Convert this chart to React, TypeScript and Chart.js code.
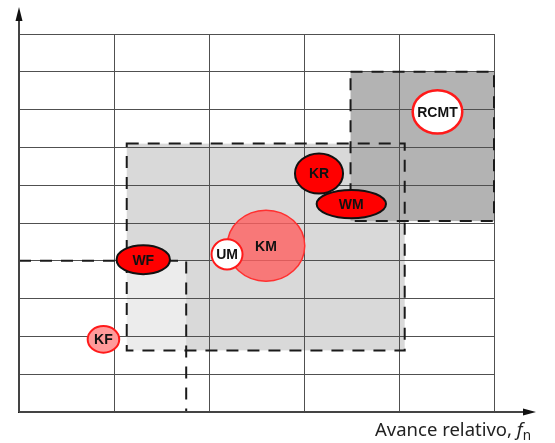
import React, { useEffect, useRef } from 'react';
import { Chart, registerables } from 'chart.js';

Chart.register(...registerables);

// Axis extents (grid of 5 columns x 10 rows)
const xMin = 0;
const xMax = 5;
const yMin = 0;
const yMax = 10;

// Shaded regions (data units)
const regionNames = ['medio', 'alto', 'bajo'];
const regionX0 = [1.134, 3.49, 0];
const regionX1 = [4.06, 5.0, 1.76];
const regionY0 = [1.63, 5.05, 0];
const regionY1 = [7.1, 9.0, 4.0];

// Markers: centre and half extents (data units)
const markerLabels = ['KF', 'WF', 'KM', 'UM', 'KR', 'WM', 'RCMT'];
const markerX = [0.889, 1.308, 2.6, 2.19, 3.158, 3.498, 4.405];
const markerY = [1.92, 4.03, 4.4, 4.17, 6.31, 5.5, 7.94];
const markerHalfW = [0.166, 0.281, 0.408, 0.163, 0.253, 0.365, 0.261];
const markerHalfH = [0.352, 0.384, 0.94, 0.4, 0.53, 0.376, 0.575];

const regionStyles: Record<string, { fill: string }> = {
  medio: { fill: '#d9d9d9' },
  alto: { fill: '#b3b3b3' },
  bajo: { fill: 'rgba(255,255,255,0.5)' },
};

const markerStyles: Record<string, { fill: string; stroke: string; width: number }> = {
  KF: { fill: '#ff9a9a', stroke: '#ff1a1a', width: 2 },
  WF: { fill: '#ff0000', stroke: '#111111', width: 2 },
  KM: { fill: 'rgba(255,95,95,0.8)', stroke: '#ff3030', width: 1.5 },
  UM: { fill: '#ffffff', stroke: '#ff1a1a', width: 2 },
  KR: { fill: '#ff0000', stroke: '#111111', width: 2 },
  WM: { fill: '#ff0000', stroke: '#111111', width: 2 },
  RCMT: { fill: '#ffffff', stroke: '#ff1a1a', width: 2.5 },
};

const regionFillPlugin = {
  id: 'regionFill',
  beforeDraw(chart: any) {
    const { ctx, scales } = chart;
    const xs = scales.x;
    const ys = scales.y;
    ctx.save();
    regionNames.forEach((name, i) => {
      const l = xs.getPixelForValue(regionX0[i]);
      const r = xs.getPixelForValue(regionX1[i]);
      const t = ys.getPixelForValue(regionY1[i]);
      const b = ys.getPixelForValue(regionY0[i]);
      ctx.fillStyle = regionStyles[name].fill;
      ctx.fillRect(l, t, r - l, b - t);
    });
    ctx.restore();
  },
  beforeDatasetsDraw(chart: any) {
    const { ctx, scales } = chart;
    const xs = scales.x;
    const ys = scales.y;
    ctx.save();
    ctx.strokeStyle = '#1a1a1a';
    ctx.lineWidth = 2;
    ctx.setLineDash([12, 9]);
    regionNames.forEach((name, i) => {
      const l = xs.getPixelForValue(regionX0[i]);
      const r = xs.getPixelForValue(regionX1[i]);
      const t = ys.getPixelForValue(regionY1[i]);
      const b = ys.getPixelForValue(regionY0[i]);
      ctx.strokeRect(l, t, r - l, b - t);
    });
    ctx.restore();
  },
};

const markerPlugin = {
  id: 'markers',
  afterDatasetsDraw(chart: any) {
    const { ctx, scales } = chart;
    const xs = scales.x;
    const ys = scales.y;
    const meta = chart.getDatasetMeta(0);
    ctx.save();
    markerLabels.forEach((lab, i) => {
      const pt = meta.data[i];
      const cx = pt.x;
      const cy = pt.y;
      const rx = Math.abs(xs.getPixelForValue(markerX[i] + markerHalfW[i]) - cx);
      const ry = Math.abs(ys.getPixelForValue(markerY[i] + markerHalfH[i]) - cy);
      const st = markerStyles[lab];
      ctx.beginPath();
      ctx.ellipse(cx, cy, rx, ry, 0, 0, Math.PI * 2);
      ctx.fillStyle = st.fill;
      ctx.fill();
      ctx.lineWidth = st.width;
      ctx.strokeStyle = st.stroke;
      ctx.stroke();
      ctx.fillStyle = '#111111';
      ctx.font = 'bold 14px "Liberation Sans", Arial, sans-serif';
      ctx.textAlign = 'center';
      ctx.textBaseline = 'middle';
      ctx.fillText(lab, cx, cy + 1);
    });
    ctx.restore();
  },
};

const axesPlugin = {
  id: 'arrowAxes',
  afterDraw(chart: any) {
    const { ctx, chartArea } = chart;
    const { left, bottom } = chartArea;
    ctx.save();
    ctx.strokeStyle = '#444444';
    ctx.fillStyle = '#111111';
    ctx.lineWidth = 2;
    // x axis
    const xEnd = 536;
    ctx.beginPath();
    ctx.moveTo(left, bottom);
    ctx.lineTo(xEnd - 10, bottom);
    ctx.stroke();
    ctx.beginPath();
    ctx.moveTo(xEnd, bottom);
    ctx.lineTo(xEnd - 13, bottom - 3.5);
    ctx.lineTo(xEnd - 13, bottom + 3.5);
    ctx.closePath();
    ctx.fill();
    // y axis
    const yEnd = 7;
    ctx.beginPath();
    ctx.moveTo(left, bottom);
    ctx.lineTo(left, yEnd + 10);
    ctx.stroke();
    ctx.beginPath();
    ctx.moveTo(left, yEnd);
    ctx.lineTo(left - 3.5, yEnd + 14);
    ctx.lineTo(left + 3.5, yEnd + 14);
    ctx.closePath();
    ctx.fill();
    ctx.restore();
  },
};

export default function App() {
  const ref = useRef<HTMLCanvasElement | null>(null);

  useEffect(() => {
    if (!ref.current) return;
    const chart = new Chart(ref.current, {
      type: 'scatter',
      data: {
        datasets: [
          {
            label: 'Centros',
            data: markerX.map((x, i) => ({ x, y: markerY[i] })),
            pointRadius: 0,
            pointHoverRadius: 0,
          },
        ],
      },
      options: {
        responsive: false,
        maintainAspectRatio: false,
        animation: false,
        devicePixelRatio: 1,
        layout: { padding: { left: 19, top: 34, right: 61, bottom: 31 } },
        plugins: {
          legend: { display: false },
          tooltip: { enabled: false },
          title: { display: false },
        },
        scales: {
          x: {
            type: 'linear',
            min: xMin,
            max: xMax,
            ticks: { display: false, stepSize: 1 },
            grid: { color: '#505050', lineWidth: 1, drawTicks: false },
            border: { display: false },
          },
          y: {
            type: 'linear',
            min: yMin,
            max: yMax,
            ticks: { display: false, stepSize: 1 },
            grid: { color: '#505050', lineWidth: 1, drawTicks: false },
            border: { display: false },
          },
        },
      },
      plugins: [regionFillPlugin, markerPlugin, axesPlugin],
    });
    return () => chart.destroy();
  }, []);

  return (
    <div style={{ position: 'fixed', left: 0, top: 0, width: 555, height: 443, background: '#ffffff' }}>
      <canvas ref={ref} width={555} height={443} style={{ display: 'block' }} />
      <div
        style={{
          position: 'absolute',
          left: 375,
          top: 417,
          fontFamily: '"Noto Sans", "Open Sans", sans-serif',
          fontSize: 18.5,
          lineHeight: '23px',
          color: '#222222',
          whiteSpace: 'nowrap',
        }}
      >
        Avance relativo, <i>f</i>
        <sub style={{ fontSize: 13.5, verticalAlign: 'baseline', position: 'relative', top: 4 }}>n</sub>
      </div>
    </div>
  );
}
